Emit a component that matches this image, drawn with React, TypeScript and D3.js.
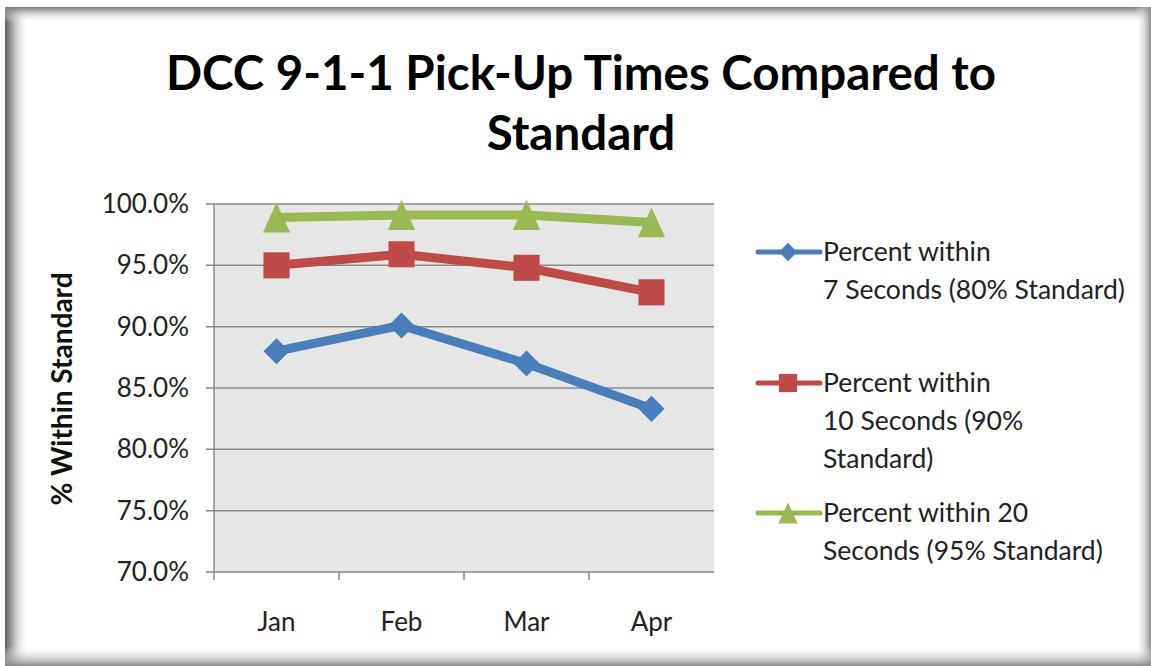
import React from 'react'
import * as d3 from 'd3'

const months = ['Jan', 'Feb', 'Mar', 'Apr']
const within7 = [88.0, 90.1, 87.0, 83.3]
const within10 = [95.0, 95.9, 94.8, 92.8]
const within20 = [98.9, 99.1, 99.1, 98.5]
const yTicks = [70, 75, 80, 85, 90, 95, 100]

const seriesNames = [
  ['Percent within', '7 Seconds (80% Standard)'],
  ['Percent within', '10 Seconds (90%', 'Standard)'],
  ['Percent within 20', 'Seconds (95% Standard)'],
]
const seriesColors = ['#4a7ebb', '#be4b48', '#98b954']
const seriesValues = [within7, within10, within20]

const W = 1151
const H = 666
const FONT = 'Lato, "Open Sans", sans-serif'

// excel-style triangle, a bit taller than wide
const tallTriangle = {
  draw(ctx: any, size: number) {
    const w = Math.sqrt(size)
    const h = w * 1.1
    ctx.moveTo(0, -h / 2)
    ctx.lineTo(w / 2, h / 2)
    ctx.lineTo(-w / 2, h / 2)
    ctx.closePath()
  },
}

function marker(i: number, scale: number) {
  if (i === 0) return { d: d3.symbol(d3.symbolSquare, 340 * scale * scale)()!, rot: 45 }
  if (i === 1) return { d: d3.symbol(d3.symbolSquare, 680 * scale * scale)()!, rot: 0 }
  return { d: d3.symbol(tallTriangle as any, 740 * scale * scale)()!, rot: 0 }
}

export default function App() {
  const left = 214
  const right = 714
  const top = 204
  const bottom = 572

  const x = d3.scaleBand().domain(months).range([left, right])
  const y = d3.scaleLinear().domain([70, 100]).range([bottom, top])
  const line = d3.line<number>()
    .x((_, i) => x(months[i])! + x.bandwidth() / 2)
    .y(d => y(d))

  const legendItems = [
    { y: 252 },
    { y: 383 },
    { y: 513 },
  ]

  return (
    <div style={{ position: 'absolute', left: 0, top: 0 }}>
      <svg width={W} height={H} style={{ display: 'block' }} fontFamily={FONT}>
        <defs>
          <linearGradient id="gl" x1="0" x2="1" y1="0" y2="0">
            <stop offset="0" stopColor="#5e5e5e" />
            <stop offset="0.25" stopColor="#9a9a9a" />
            <stop offset="1" stopColor="#ffffff" stopOpacity="0" />
          </linearGradient>
          <linearGradient id="gt" x1="0" x2="0" y1="0" y2="1">
            <stop offset="0" stopColor="#7a7a7a" />
            <stop offset="1" stopColor="#ffffff" stopOpacity="0" />
          </linearGradient>
          <linearGradient id="gr" x1="1" x2="0" y1="0" y2="0">
            <stop offset="0" stopColor="#8c8c8c" />
            <stop offset="1" stopColor="#ffffff" stopOpacity="0" />
          </linearGradient>
          <linearGradient id="gb" x1="0" x2="0" y1="1" y2="0">
            <stop offset="0" stopColor="#8a8a8a" />
            <stop offset="1" stopColor="#ffffff" stopOpacity="0" />
          </linearGradient>
        </defs>
        <rect width={W} height={H} fill="#ffffff" />
        <rect x={5} y={7} width={24} height={H - 7} fill="url(#gl)" />
        <rect x={5} y={7} width={W - 5} height={16} fill="url(#gt)" />
        <rect x={W - 16} y={7} width={16} height={H - 7} fill="url(#gr)" />
        <rect x={5} y={H - 20} width={W - 5} height={20} fill="url(#gb)" />

        <text x={581} y={90} textAnchor="middle" fontSize={47.5} fontWeight="bold" fill="#000">
          DCC 9-1-1 Pick-Up Times Compared to
        </text>
        <text x={581} y={150} textAnchor="middle" fontSize={47.5} fontWeight="bold" fill="#000">
          Standard
        </text>

        <rect x={left} y={top} width={right - left} height={bottom - top} fill="#e6e6e6" />
        {yTicks.map(t => (
          <g key={t}>
            <line x1={left - 8} x2={right} y1={y(t)} y2={y(t)} stroke="#8a8a8a" strokeWidth={1.5} />
            <text x={189} y={y(t)} dy="0.35em" textAnchor="end" fontSize={26} fill="#222">
              {d3.format('.1f')(t)}%
            </text>
          </g>
        ))}
        <line x1={left} x2={left} y1={top} y2={bottom} stroke="#8a8a8a" strokeWidth={1.5} />
        {months.map(m => (
          <g key={m}>
            <line x1={x(m)!} x2={x(m)!} y1={bottom} y2={bottom + 8} stroke="#8a8a8a" strokeWidth={1.5} />
            <text x={x(m)! + x.bandwidth() / 2} y={631} textAnchor="middle" fontSize={26} fill="#222">
              {m}
            </text>
          </g>
        ))}
        <text transform={`translate(72,${(top + bottom) / 2 + 1}) rotate(-90)`} textAnchor="middle"
          fontSize={28} fontWeight="bold" fill="#111">
          % Within Standard
        </text>

        {seriesValues.map((vals, i) => (
          <g key={i}>
            <path d={line(vals)!} fill="none" stroke={seriesColors[i]} strokeWidth={9} strokeLinejoin="round" />
            {vals.map((v, j) => {
              const mk = marker(i, 1)
              return (
                <path key={j} d={mk.d} fill={seriesColors[i]}
                  transform={`translate(${x(months[j])! + x.bandwidth() / 2},${y(v)}) rotate(${mk.rot})`} />
              )
            })}
          </g>
        ))}

        {legendItems.map((it, i) => {
          const mk = marker(i, 0.7)
          return (
            <g key={i}>
              <line x1={758} x2={820} y1={it.y} y2={it.y} stroke={seriesColors[i]} strokeWidth={5} strokeLinecap="round" />
              <path d={mk.d} fill={seriesColors[i]} transform={`translate(788,${it.y}) rotate(${mk.rot})`} />
              {seriesNames[i].map((s, k) => (
                <text key={k} x={823} y={it.y + k * 38} dy="0.35em" fontSize={26.5} fill="#222">{s}</text>
              ))}
            </g>
          )
        })}
      </svg>
    </div>
  )
}
